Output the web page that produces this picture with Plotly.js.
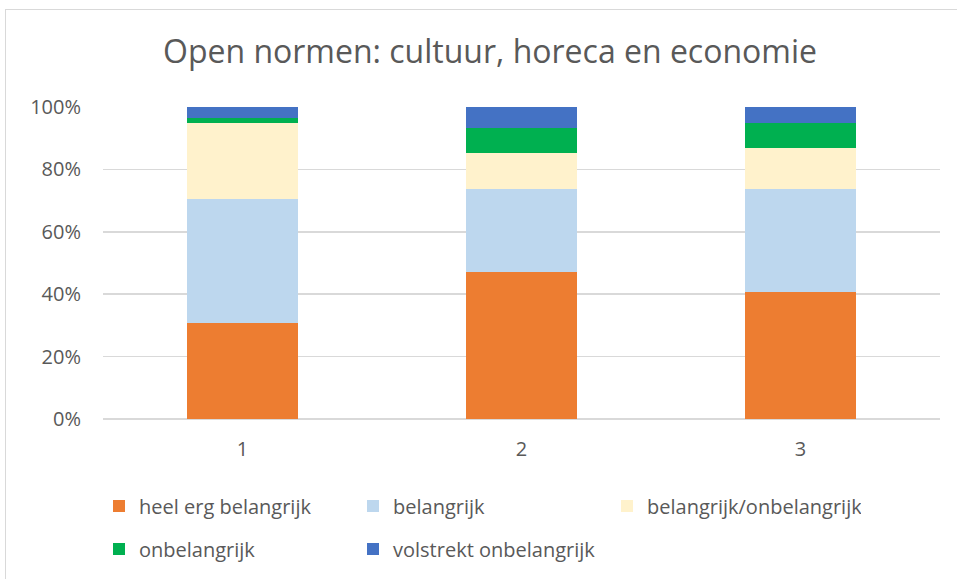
<!DOCTYPE html>
<html><head><meta charset="utf-8">
<script src="https://cdn.plot.ly/plotly-3.0.1.min.js"></script>
<style>body{margin:0;background:#fff}#wrap{position:relative;width:957px;height:579px}#frame{position:absolute;left:5px;top:9px;width:960px;height:580px;border:1px solid #d9d9d9;pointer-events:none}</style>
</head><body><div id="wrap"><div id="chart" style="width:957px;height:579px"></div><div id="frame"></div></div>
<script>
const categories = ['1','2','3'];
const heelErgBelangrijk = [30.8, 47.1, 40.6];
const belangrijk = [39.3, 26.3, 32.8];
const neutraal = [24.5, 11.5, 13.2];
const onbelangrijk = [1.6, 8.2, 8.1];
const volstrektOnbelangrijk = [3.4, 6.6, 5.0];
const seriesNames = ['heel erg belangrijk','belangrijk','belangrijk/onbelangrijk','onbelangrijk','volstrekt onbelangrijk'];
const seriesValues = [heelErgBelangrijk, belangrijk, neutraal, onbelangrijk, volstrektOnbelangrijk];
const colors = ['#ED7D31','#BDD7EE','#FFF2CC','#00B050','#4472C4'];
const legends = ['legend','legend','legend','legend2','legend2'];
const yTicks = [0,20,40,60,80,100];
const yTickText = ['0%','20%','40%','60%','80%','100%'];

const FONT = 'Open Sans, Noto Sans, sans-serif';
const traces = seriesNames.map((n,i)=>({
  type:'bar', name:n, x:categories, y:seriesValues[i],
  marker:{color:colors[i], line:{width:0}}, legend:legends[i], hoverinfo:'skip'
}));
const legendCommon = {orientation:'h', xanchor:'left', yanchor:'middle', font:{family:FONT,size:20,color:'#595959'},
  entrywidth:209, entrywidthmode:'pixels', traceorder:'normal', bgcolor:'rgba(0,0,0,0)', itemclick:false};
const layout = {
  width:957, height:579, barmode:'stack', barnorm:'percent', bargap:0.6,
  margin:{l:103, r:17, t:107, b:159},
  paper_bgcolor:'#fff', plot_bgcolor:'#fff',
  font:{family:FONT, color:'#595959'},
  title:{text:'Open normen: cultuur, horeca en economie', font:{family:FONT,size:32,color:'#595959'}, x:490/957, xanchor:'center', y:1-52/579, yref:'container', yanchor:'middle'},
  xaxis:{type:'category', showline:false, ticks:'', tickfont:{size:20,color:'#595959',family:FONT}, showgrid:false, zeroline:false, ticklabelstandoff:16},
  yaxis:{range:[0,100], tickvals:yTicks, ticktext:yTickText, showgrid:true, gridcolor:'#d9d9d9', gridwidth:1.5, zeroline:true, zerolinecolor:'#d9d9d9', zerolinewidth:1.5, tickfont:{size:20,color:'#595959',family:FONT}, ticks:'', ticklabelstandoff:21},
  legend:Object.assign({x:-4/837, y:-(506-420)/313}, legendCommon),
  legend2:Object.assign({x:-4/837, y:-(549-420)/313}, legendCommon),
  showlegend:true
};
Plotly.newPlot('chart', traces, layout, {displayModeBar:false, staticPlot:true});
</script></body></html>
